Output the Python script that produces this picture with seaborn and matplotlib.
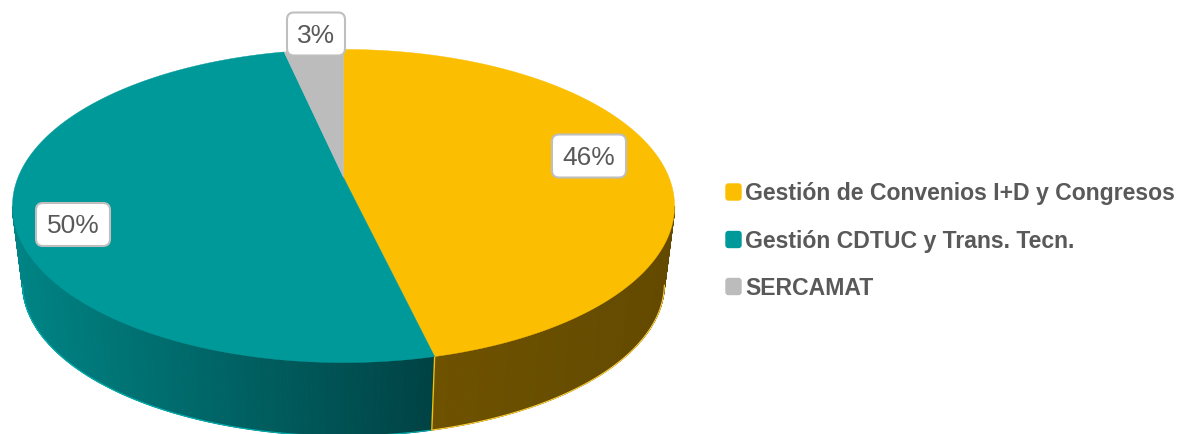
#importing the libraries
import numpy as np
import matplotlib
matplotlib.use('Agg')
import matplotlib.pyplot as plt
from matplotlib.patches import FancyBboxPatch
import seaborn as sns

#chart values
categories = ['Gestión de Convenios I+D y Congresos', 'Gestión CDTUC y Trans. Tecn.', 'SERCAMAT']
shares = [46.3, 50.25, 3.45]
labels = ['46%', '50%', '3%']
colors = ['#FBBE00', '#009999', '#BCBCBC']
wall_colors = [['#6E5200', '#634A00'], ['#008485', '#004244'], ['#8A8A8A', '#8A8A8A']]

#label boxes (centre x, centre y, width) and legend rows, in pixels of the picture
label_box = [(589, 157, 74), (73, 225.5, 74), (316, 35, 58)]
legend_y = [193, 240.5, 287.5]

sns.set_theme(style='white')
plt.rcParams['font.family'] = ['Liberation Sans', 'DejaVu Sans']

fig = plt.figure(figsize=(11.8, 4.35), dpi=100)
ax = fig.add_axes([0, 0, 1, 1])
ax.set_xlim(0, 1180)
ax.set_ylim(435, 0)
ax.axis('off')


#perspective view of the pie circle: apex sits above the middle of the ellipse
def project(theta, cx, apex, slope, tilt, k):
    u, v = np.sin(theta), np.cos(theta)
    w = 1 + tilt * v
    return cx + k * u / w, (apex + slope * v) / w


tilt = 0.182
top_view = dict(cx=343.5, apex=178.5, slope=-118.9, tilt=tilt, k=325.5)
bottom_view = dict(cx=343.5, apex=257.3, slope=-100.1, tilt=tilt, k=315.5)

edges = np.radians(np.concatenate([[0], np.cumsum(shares)]) / np.sum(shares) * 360)

#side wall first, only the near side shows
for i in range(len(shares)):
    steps = max(int(np.degrees(edges[i + 1] - edges[i]) * 2), 2)
    t = np.linspace(edges[i], edges[i + 1], steps + 1)
    xt, yt = project(t, **top_view)
    xb, yb = project(t, **bottom_view)
    ramp = sns.blend_palette(wall_colors[i], 256)
    for j in range(steps):
        if np.cos((t[j] + t[j + 1]) / 2) > -tilt:
            continue
        mid = (xt[j] + xt[j + 1]) / 2
        if i == 1:
            pos = (mid - 12) / (434 - 12)
        else:
            pos = (mid - 434) / (672 - 434)
        color = ramp[int(np.clip(pos, 0, 1) * 255)]
        ax.fill([xt[j], xt[j + 1], xb[j + 1], xb[j]], [yt[j], yt[j + 1], yb[j + 1], yb[j]],
                color=color, lw=0.8, zorder=1)

#thin bright rim along the foot of the wall and the seam between slices
for i in range(2):
    t = np.linspace(edges[i], edges[i + 1], 300)
    t = t[np.cos(t) < -tilt]
    xb, yb = project(t, **bottom_view)
    rim = '#FFD23C' if i == 0 else '#00B0B0'
    ax.plot(xb, yb, color=rim, lw=0.8, zorder=2)
sx, sy = project(edges[1], **top_view)
bx, by = project(edges[1], **bottom_view)
ax.plot([sx, bx], [sy, by], color=colors[0], lw=1, zorder=3)

#top face of the pie
apex_x, apex_y = top_view['cx'], top_view['apex']
for i, color in enumerate(colors):
    t = np.linspace(edges[i], edges[i + 1], 400)
    xt, yt = project(t, **top_view)
    ax.fill(np.r_[apex_x, xt], np.r_[apex_y, yt], color=color, lw=0.3, zorder=4)

#data labels
for text, (x, y, w) in zip(labels, label_box):
    ax.add_patch(FancyBboxPatch((x - w / 2, y - 21.5), w, 43, boxstyle='round,pad=0,rounding_size=7',
                                fc='white', ec='#BFBFBF', lw=1.5, zorder=5))
    ax.text(x, y + 1, text, fontsize=19, color='#595959', ha='center', va='center', zorder=6)

#legend
for name, color, y in zip(categories, colors, legend_y):
    ax.add_patch(FancyBboxPatch((726, y - 8), 15, 16, boxstyle='round,pad=0,rounding_size=2.5',
                                fc=color, ec=color, lw=1, zorder=6))
    ax.text(745, y + 1, name, fontsize=16.6, fontweight='bold', color='#595959', ha='left', va='center', zorder=6)

fig.savefig('out.png', dpi=100)
